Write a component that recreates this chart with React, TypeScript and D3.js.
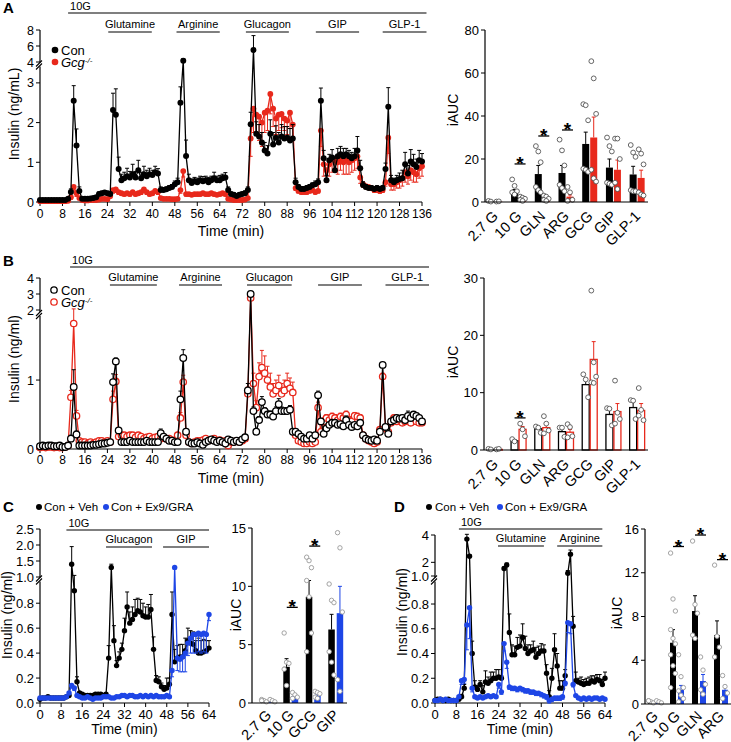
import React from 'react';
import * as d3 from 'd3';

const FONT = "'Liberation Sans', Arial, Helvetica, sans-serif";
const RED = '#e8291c';
const BLUE = '#1e46e6';

// ---------- panel A: perifusion trace (0-136 min, 1 min sampling) ----------
const conA = [
  0.05, 0.05, 0.05, 0.05, 0.05, 0.05, 0.05, 0.05, 0.05, 0.05,
  0.08, 0.25, 2.55, 1.42, 0.28, 0.08, 0.08, 0.08, 0.09, 0.1,
  0.12, 0.2, 0.22, 0.24, 0.22, 0.2, 2.32, 2.2, 0.83, 0.55,
  0.6, 0.65, 0.62, 0.7, 0.62, 0.8, 0.6, 0.7, 0.65, 0.7,
  0.68, 0.75, 0.72, 0.3, 0.3, 0.32, 0.35, 0.38, 0.45, 0.5,
  2.5, 4.15, 1.16, 0.55, 0.48, 0.52, 0.5, 0.55, 0.52, 0.55,
  0.5, 0.55, 0.6, 0.55, 0.55, 0.6, 0.62, 0.3, 0.2, 0.18,
  0.15, 0.18, 0.2, 0.22, 0.3, 1.96, 5.5, 1.72, 1.65, 1.5,
  1.3, 1.22, 1.72, 1.45, 1.62, 1.5, 1.65, 1.6, 1.62, 1.55,
  1.6, 0.5, 0.38, 0.33, 0.33, 0.35, 0.38, 0.42, 0.45, 0.5,
  2.55, 1.1, 0.55, 1.05, 1.12, 0.8, 1.15, 1.2, 1.15, 1.2,
  1.15, 1.1, 1.15, 1.3, 0.85, 0.43, 0.38, 0.35, 0.35, 0.33,
  0.35, 0.33, 0.35, 0.83, 2.4, 0.55, 0.5, 0.55, 0.58, 0.6,
  0.95, 0.72, 1.02, 0.95, 0.88, 1.05, 1.02,
];
const conAErr = [
  0.02, 0.02, 0.02, 0.02, 0.02, 0.02, 0.02, 0.02, 0.02, 0.02,
  0.03, 0.08, 0.38, 0.42, 0.1, 0.03, 0.03, 0.03, 0.03, 0.03,
  0.04, 0.05, 0.05, 0.05, 0.05, 0.05, 0.42, 0.65, 0.3, 0.15,
  0.15, 0.2, 0.15, 0.25, 0.15, 0.25, 0.15, 0.2, 0.15, 0.15,
  0.12, 0.15, 0.12, 0.08, 0.06, 0.06, 0.06, 0.06, 0.08, 0.1,
  0.4, 0.25, 0.4, 0.15, 0.1, 0.1, 0.1, 0.1, 0.12, 0.1,
  0.12, 0.1, 0.15, 0.1, 0.12, 0.1, 0.12, 0.08, 0.05, 0.05,
  0.05, 0.05, 0.05, 0.06, 0.08, 0.3, 1.8, 0.3, 0.3, 0.25,
  0.2, 0.2, 0.35, 0.3, 0.3, 0.25, 0.3, 0.3, 0.28, 0.3,
  0.35, 0.1, 0.06, 0.06, 0.06, 0.06, 0.06, 0.06, 0.08, 0.08,
  0.32, 0.2, 0.12, 0.15, 0.2, 0.3, 0.2, 0.2, 0.2, 0.15,
  0.15, 0.15, 0.2, 0.35, 0.2, 0.08, 0.06, 0.06, 0.06, 0.06,
  0.06, 0.06, 0.06, 0.15, 0.48, 0.12, 0.1, 0.12, 0.15, 0.2,
  0.3, 0.2, 0.3, 0.25, 0.2, 0.25, 0.2,
];
const gcgA = [
  0.02, 0.02, 0.02, 0.02, 0.02, 0.02, 0.02, 0.02, 0.02, 0.02,
  0.03, 0.12, 0.38, 0.22, 0.1, 0.05, 0.04, 0.04, 0.05, 0.05,
  0.05, 0.06, 0.08, 0.08, 0.07, 0.15, 0.3, 0.32, 0.25, 0.22,
  0.2, 0.22, 0.2, 0.25, 0.2, 0.22, 0.25, 0.32, 0.25, 0.2,
  0.22, 0.28, 0.25, 0.1, 0.08, 0.08, 0.08, 0.07, 0.07, 0.08,
  0.3, 0.78, 0.2, 0.2, 0.18, 0.2, 0.2, 0.2, 0.22, 0.2,
  0.2, 0.22, 0.2, 0.18, 0.2, 0.22, 0.2, 0.08, 0.06, 0.05,
  0.05, 0.05, 0.05, 0.06, 0.1, 1.6, 2.35, 2.2, 2.15, 2.0,
  2.25, 2.3, 2.72, 2.35, 2.1, 2.2, 2.22, 2.1, 2.05, 2.25,
  1.95, 0.35, 0.28, 0.25, 0.25, 0.25, 0.28, 0.3, 0.25, 0.28,
  1.8, 0.95, 0.8, 0.95, 1.1, 1.05, 1.0, 1.1, 1.0, 1.05,
  1.0, 1.05, 1.1, 1.15, 0.62, 0.45, 0.4, 0.38, 0.35, 0.3,
  0.3, 0.28, 0.3, 0.5, 1.62, 0.45, 0.45, 0.5, 0.55, 0.6,
  0.75, 0.65, 0.8, 0.75, 0.7, 0.85, 0.9,
];
const gcgAErr = [
  0.01, 0.01, 0.01, 0.01, 0.01, 0.01, 0.01, 0.01, 0.01, 0.01,
  0.02, 0.05, 0.1, 0.08, 0.04, 0.02, 0.02, 0.02, 0.02, 0.02,
  0.02, 0.02, 0.03, 0.03, 0.03, 0.05, 0.08, 0.08, 0.06, 0.05,
  0.05, 0.05, 0.05, 0.06, 0.05, 0.05, 0.06, 0.08, 0.06, 0.05,
  0.05, 0.06, 0.06, 0.03, 0.02, 0.02, 0.02, 0.02, 0.02, 0.02,
  0.08, 0.15, 0.05, 0.05, 0.04, 0.05, 0.05, 0.05, 0.05, 0.05,
  0.05, 0.05, 0.05, 0.04, 0.05, 0.05, 0.05, 0.02, 0.02, 0.02,
  0.02, 0.02, 0.02, 0.02, 0.04, 0.45, 0.6, 0.5, 0.6, 0.6,
  0.5, 0.5, 0.5, 0.45, 0.4, 0.4, 0.35, 0.3, 0.35, 0.4,
  0.3, 0.06, 0.05, 0.05, 0.05, 0.05, 0.05, 0.05, 0.05, 0.05,
  0.4, 0.3, 0.3, 0.3, 0.35, 0.3, 0.3, 0.3, 0.3, 0.35,
  0.3, 0.3, 0.3, 0.3, 0.15, 0.08, 0.07, 0.07, 0.06, 0.06,
  0.06, 0.06, 0.06, 0.1, 0.4, 0.15, 0.15, 0.15, 0.2, 0.2,
  0.25, 0.2, 0.25, 0.25, 0.2, 0.25, 0.25,
];

// ---------- panel B: trace ----------
const conB = [
  0.04, 0.05, 0.04, 0.05, 0.05, 0.04, 0.04, 0.05, 0.03, 0.03,
  0.05, 0.15, 0.9, 0.21, 0.05, 0.05, 0.05, 0.05, 0.05, 0.06,
  0.06, 0.07, 0.08, 0.08, 0.09, 0.1, 0.97, 1.27, 0.27, 0.1,
  0.1, 0.1, 0.12, 0.1, 0.1, 0.1, 0.1, 0.1, 0.12, 0.1,
  0.1, 0.1, 0.1, 0.23, 0.18, 0.15, 0.12, 0.12, 0.1, 0.1,
  0.72, 1.32, 0.25, 0.1, 0.08, 0.08, 0.1, 0.08, 0.06, 0.1,
  0.12, 0.14, 0.12, 0.1, 0.12, 0.1, 0.08, 0.14, 0.12, 0.1,
  0.12, 0.1, 0.14, 0.17, 0.85, 3.0, 0.55, 0.25, 0.42, 0.68,
  0.55, 0.5, 0.5, 0.47, 0.55, 0.65, 0.55, 0.55, 0.55, 0.57,
  0.25, 0.25, 0.22, 0.18, 0.15, 0.15, 0.2, 0.15, 0.2, 0.78,
  0.4, 0.22, 0.3, 0.35, 0.38, 0.38, 0.35, 0.36, 0.33, 0.42,
  0.35, 0.32, 0.35, 0.33, 0.38, 0.2, 0.15, 0.13, 0.12, 0.14,
  0.12, 0.25, 1.22, 0.32, 0.22, 0.4, 0.42, 0.45, 0.44, 0.45,
  0.42, 0.48, 0.45, 0.5, 0.48, 0.45, 0.4,
];
const conBErr = [
  0.01, 0.01, 0.01, 0.01, 0.01, 0.01, 0.01, 0.01, 0.01, 0.01,
  0.02, 0.05, 0.25, 0.05, 0.01, 0.01, 0.01, 0.01, 0.01, 0.01,
  0.01, 0.01, 0.01, 0.01, 0.01, 0.02, 0.12, 0.05, 0.04, 0.02,
  0.02, 0.02, 0.02, 0.02, 0.02, 0.02, 0.02, 0.02, 0.02, 0.02,
  0.02, 0.02, 0.02, 0.06, 0.03, 0.02, 0.02, 0.02, 0.02, 0.02,
  0.12, 0.12, 0.04, 0.02, 0.02, 0.02, 0.02, 0.02, 0.02, 0.02,
  0.02, 0.02, 0.02, 0.02, 0.02, 0.02, 0.02, 0.02, 0.02, 0.02,
  0.02, 0.02, 0.02, 0.03, 0.1, 0.1, 0.06, 0.04, 0.05, 0.08,
  0.05, 0.05, 0.05, 0.05, 0.06, 0.08, 0.06, 0.05, 0.05, 0.06,
  0.04, 0.03, 0.03, 0.02, 0.02, 0.02, 0.02, 0.02, 0.03, 0.06,
  0.04, 0.03, 0.03, 0.03, 0.03, 0.03, 0.03, 0.03, 0.03, 0.06,
  0.03, 0.03, 0.03, 0.03, 0.03, 0.02, 0.02, 0.02, 0.02, 0.02,
  0.02, 0.02, 0.03, 0.03, 0.03, 0.03, 0.03, 0.03, 0.03, 0.04,
  0.04, 0.07, 0.05, 0.04, 0.04, 0.03, 0.03,
];
const gcgB = [
  0.02, 0.03, 0.02, 0.03, 0.03, 0.02, 0.03, 0.02, 0.02, 0.03,
  0.05, 0.75, 1.82, 0.48, 0.12, 0.1, 0.1, 0.08, 0.1, 0.08,
  0.1, 0.12, 0.12, 0.1, 0.12, 0.1, 0.72, 0.98, 0.18, 0.2,
  0.2, 0.18, 0.2, 0.2, 0.17, 0.2, 0.18, 0.15, 0.17, 0.18,
  0.15, 0.17, 0.18, 0.15, 0.17, 0.15, 0.15, 0.13, 0.12, 0.2,
  0.45, 0.97, 0.2, 0.1, 0.08, 0.1, 0.12, 0.12, 0.13, 0.15,
  0.12, 0.13, 0.15, 0.12, 0.13, 0.1, 0.12, 0.05, 0.1, 0.1,
  0.12, 0.1, 0.12, 0.15, 0.8, 2.75, 0.95, 0.6, 1.05, 1.18,
  1.1, 1.0, 0.9, 0.8, 0.85, 0.92, 0.8, 0.85, 0.95, 0.88,
  0.82, 0.2, 0.12, 0.1, 0.08, 0.08, 0.1, 0.08, 0.1, 0.6,
  0.25, 0.4, 0.45, 0.42, 0.47, 0.45, 0.42, 0.47, 0.45, 0.5,
  0.42, 0.4, 0.48, 0.47, 0.45, 0.2, 0.15, 0.12, 0.1, 0.08,
  0.1, 0.28, 1.05, 0.3, 0.25, 0.38, 0.45, 0.4, 0.42, 0.38,
  0.4, 0.42, 0.38, 0.45, 0.4, 0.38, 0.38,
];
const gcgBErr = [
  0.01, 0.01, 0.01, 0.01, 0.01, 0.01, 0.01, 0.01, 0.01, 0.01,
  0.02, 0.1, 0.25, 0.08, 0.02, 0.01, 0.01, 0.01, 0.01, 0.01,
  0.01, 0.01, 0.01, 0.01, 0.01, 0.01, 0.12, 0.1, 0.02, 0.02,
  0.02, 0.02, 0.02, 0.02, 0.02, 0.02, 0.02, 0.02, 0.02, 0.02,
  0.02, 0.02, 0.02, 0.02, 0.02, 0.02, 0.02, 0.02, 0.02, 0.02,
  0.08, 0.1, 0.02, 0.01, 0.01, 0.01, 0.01, 0.01, 0.01, 0.01,
  0.01, 0.01, 0.01, 0.01, 0.01, 0.01, 0.01, 0.01, 0.01, 0.01,
  0.01, 0.01, 0.01, 0.02, 0.1, 0.1, 0.15, 0.1, 0.2, 0.25,
  0.25, 0.2, 0.2, 0.15, 0.15, 0.15, 0.15, 0.15, 0.15, 0.15,
  0.15, 0.03, 0.02, 0.02, 0.02, 0.02, 0.02, 0.02, 0.02, 0.08,
  0.05, 0.05, 0.05, 0.05, 0.05, 0.05, 0.05, 0.05, 0.05, 0.05,
  0.05, 0.05, 0.05, 0.05, 0.05, 0.03, 0.02, 0.02, 0.02, 0.02,
  0.02, 0.03, 0.05, 0.03, 0.03, 0.04, 0.04, 0.04, 0.04, 0.04,
  0.04, 0.04, 0.04, 0.04, 0.04, 0.04, 0.04,
];

// ---------- panel C: trace (0-64 min) ----------
const vehC = [
  0.03, 0.04, 0.04, 0.05, 0.04, 0.04, 0.04, 0.04, 0.04, 0.04,
  0.05, 0.06, 1.4, 0.9, 0.17, 0.08, 0.07, 0.06, 0.06, 0.06,
  0.06, 0.07, 0.07, 0.07, 0.06, 0.07, 0.36, 1.3, 0.5, 0.3,
  0.36, 0.43, 0.58, 0.77, 0.64, 0.67, 0.71, 0.74, 0.73, 0.7,
  0.69, 0.69, 0.75, 0.43, 0.18, 0.17, 0.13, 0.11, 0.12, 0.15,
  0.71, 0.33, 0.36, 0.37, 0.37, 0.42, 0.5, 0.48, 0.47, 0.42,
  0.4, 0.4, 0.41, 0.42, 0.44,
];
const vehCErr = [
  0.01, 0.01, 0.01, 0.01, 0.01, 0.01, 0.01, 0.01, 0.01, 0.01,
  0.01, 0.02, 0.55, 0.15, 0.04, 0.01, 0.01, 0.01, 0.01, 0.01,
  0.01, 0.01, 0.01, 0.01, 0.01, 0.01, 0.1, 0.1, 0.12, 0.04,
  0.05, 0.05, 0.1, 0.12, 0.09, 0.1, 0.12, 0.1, 0.1, 0.1,
  0.08, 0.1, 0.12, 0.1, 0.04, 0.04, 0.03, 0.03, 0.08, 0.05,
  0.18, 0.1, 0.1, 0.1, 0.1, 0.1, 0.1, 0.1, 0.1, 0.08,
  0.12, 0.1, 0.1, 0.08, 0.06,
];
const exC = [
  0.04, 0.04, 0.04, 0.04, 0.04, 0.04, 0.04, 0.04, 0.04, 0.04,
  0.05, 0.08, 0.14, 0.12, 0.06, 0.05, 0.04, 0.04, 0.05, 0.04,
  0.03, 0.04, 0.04, 0.04, 0.05, 0.05, 0.05, 0.04, 0.04, 0.05,
  0.05, 0.06, 0.06, 0.05, 0.06, 0.06, 0.05, 0.05, 0.06, 0.05,
  0.06, 0.05, 0.06, 0.05, 0.06, 0.05, 0.05, 0.05, 0.06, 0.05,
  0.26, 1.3, 0.36, 0.35, 0.37, 0.4, 0.48, 0.52, 0.55, 0.55,
  0.56, 0.55, 0.56, 0.55, 0.71,
];
const exCErr = [
  0.01, 0.01, 0.01, 0.01, 0.01, 0.01, 0.01, 0.01, 0.01, 0.01,
  0.01, 0.01, 0.02, 0.02, 0.01, 0.01, 0.01, 0.01, 0.01, 0.01,
  0.01, 0.01, 0.01, 0.01, 0.01, 0.01, 0.01, 0.01, 0.01, 0.01,
  0.01, 0.01, 0.01, 0.01, 0.01, 0.01, 0.01, 0.01, 0.01, 0.01,
  0.01, 0.01, 0.01, 0.01, 0.01, 0.01, 0.01, 0.01, 0.01, 0.01,
  0.05, 0.05, 0.1, 0.1, 0.12, 0.15, 0.1, 0.12, 0.15, 0.15,
  0.15, 0.15, 0.15, 0.15, 0.05,
];

// ---------- panel D: trace (0-64 min) ----------
const vehD = [
  0.02, 0.03, 0.03, 0.02, 0.02, 0.03, 0.02, 0.02, 0.02, 0.03,
  0.05, 0.12, 3.7, 2.45, 0.4, 0.13, 0.11, 0.15, 0.09, 0.17,
  0.16, 0.18, 0.2, 0.2, 0.21, 0.2, 1.55, 1.8, 0.57, 0.39,
  0.39, 0.45, 0.46, 0.53, 0.44, 0.4, 0.42, 0.43, 0.37, 0.4,
  0.42, 0.42, 0.24, 0.05, 0.2, 0.43, 0.3, 0.12, 0.12, 0.22,
  1.2, 2.6, 0.62, 0.18, 0.17, 0.16, 0.15, 0.16, 0.16, 0.18,
  0.17, 0.19, 0.18, 0.15, 0.2,
];
const vehDErr = [
  0.01, 0.01, 0.01, 0.01, 0.01, 0.01, 0.01, 0.01, 0.01, 0.01,
  0.02, 0.03, 0.35, 0.1, 0.1, 0.05, 0.03, 0.03, 0.05, 0.09,
  0.05, 0.07, 0.05, 0.07, 0.06, 0.02, 0.1, 0.15, 0.15, 0.08,
  0.07, 0.08, 0.09, 0.11, 0.1, 0.07, 0.05, 0.07, 0.08, 0.06,
  0.06, 0.05, 0.07, 0.05, 0.08, 0.13, 0.1, 0.06, 0.06, 0.05,
  0.2, 0.3, 0.08, 0.07, 0.03, 0.05, 0.04, 0.04, 0.05, 0.04,
  0.05, 0.04, 0.05, 0.04, 0.05,
];
const exD = [
  0.02, 0.02, 0.03, 0.02, 0.03, 0.02, 0.02, 0.02, 0.02, 0.05,
  0.18, 0.19, 0.63, 0.77, 0.12, 0.05, 0.04, 0.05, 0.04, 0.05,
  0.06, 0.05, 0.06, 0.05, 0.15, 0.09, 0.48, 0.33, 0.13, 0.12,
  0.12, 0.11, 0.12, 0.11, 0.1, 0.1, 0.09, 0.09, 0.08, 0.08,
  0.07, 0.06, 0.05, 0.02, 0.03, 0.04, 0.04, 0.04, 0.05, 0.16,
  0.65, 0.64, 0.15, 0.06, 0.04, 0.03, 0.04, 0.03, 0.04, 0.03,
  0.04, 0.04, 0.03, 0.04, 0.03,
];
const exDErr = [
  0.01, 0.01, 0.01, 0.01, 0.01, 0.01, 0.01, 0.01, 0.01, 0.01,
  0.03, 0.03, 0.2, 0.25, 0.03, 0.01, 0.01, 0.01, 0.01, 0.01,
  0.01, 0.01, 0.01, 0.01, 0.03, 0.02, 0.06, 0.05, 0.02, 0.02,
  0.02, 0.02, 0.02, 0.02, 0.02, 0.02, 0.02, 0.02, 0.02, 0.02,
  0.02, 0.02, 0.02, 0.02, 0.02, 0.02, 0.02, 0.02, 0.02, 0.02,
  0.08, 0.08, 0.02, 0.01, 0.01, 0.01, 0.01, 0.01, 0.01, 0.01,
  0.01, 0.01, 0.01, 0.01, 0.01,
];

// ---------- axis ticks and treatment windows ----------
const ticks136 = [0, 8, 16, 24, 32, 40, 48, 56, 64, 72, 80, 88, 96, 104, 112, 120, 128, 136];
const ticks64 = [0, 8, 16, 24, 32, 40, 48, 56, 64];

const windowsA = [
  { label: 'Glutamine', t0: 24.3, t1: 39.8 },
  { label: 'Arginine', t0: 48.6, t1: 64 },
  { label: 'Glucagon', t0: 73.3, t1: 88.6 },
  { label: 'GIP', t0: 98.2, t1: 113.6 },
  { label: 'GLP-1', t0: 122, t1: 137.6 },
];
const windowsB = [
  { label: 'Glutamine', t0: 24.9, t1: 41.6 },
  { label: 'Arginine', t0: 49.5, t1: 64.8 },
  { label: 'Glucagon', t0: 73.7, t1: 89.6 },
  { label: 'GIP', t0: 99, t1: 114.6 },
  { label: 'GLP-1', t0: 123, t1: 138.5 },
];
const windowsC = [
  { label: 'Glucagon', t0: 25, t1: 42.4 },
  { label: 'GIP', t0: 46.6, t1: 64 },
];
const windowsD = [
  { label: 'Glutamine', t0: 23.7, t1: 41 },
  { label: 'Arginine', t0: 46, t1: 63 },
];

// ---------- iAUC bars ----------
const catsAB = ['2.7 G', '10 G', 'GLN', 'ARG', 'GCG', 'GIP', 'GLP-1'];
const iaucConA = [0.3, 4.5, 13, 13.5, 27, 16, 12.8];
const iaucConASem = [0.1, 1.3, 4, 3.5, 5.5, 4, 3.8];
const iaucGcgA = [0.2, 1.5, 1.5, 2.5, 30, 15, 11.2];
const iaucGcgASem = [0.1, 0.5, 0.5, 0.8, 9.5, 4.5, 3.6];
const dotsConA = [
  [0.5, 0.2], [10.5, 7.5, 5, 4.5, 3.5], [26, 23.5, 18.5, 7, 5.5, 4.5], [29, 24, 17, 8, 6.5, 5],
  [45.5, 45, 38, 15.5, 15, 14], [30, 26, 23.5, 9, 8.5, 8], [26.5, 23, 21, 5.5, 5, 5],
];
const dotsGcgA = [
  [0.2, 0.3], [2.5, 2, 1.5, 1, 0.5], [3, 2.5, 1.5, 1, 0.5], [7, 4.5, 1, 0.5],
  [65.5, 57.5, 41, 15, 11, 9.5], [29.5, 29.5, 20, 9, 6], [24.5, 22.5, 17.5, 4.5, 3.5, 3],
];

const iaucConB = [0.1, 1.6, 3.7, 3.2, 11.4, 6.2, 7.4];
const iaucConBSem = [0.05, 0.2, 0.3, 0.5, 1.0, 1.0, 1.1];
const iaucGcgB = [0.1, 3.6, 3.9, 3.1, 15.8, 6.7, 6.9];
const iaucGcgBSem = [0.05, 0.5, 0.6, 0.5, 3.1, 1.4, 1.2];
const dotsConB = [
  [0.2, 0.1], [1.9, 1.5], [4.1, 3.9, 3.0], [3.9, 3.9, 2.3], [13.2, 12.3, 9.2], [7.3, 7.2, 4.3], [8.7, 8.6, 5.4],
];
const dotsGcgB = [
  [0.1, 0.2], [4.6, 3.6, 2.4], [5.9, 4.6, 3.4, 2.9], [4.5, 4.0, 2.4, 2.2],
  [27.8, 15.3, 12.8, 11.8, 11.7], [12.1, 6.5, 5.4, 4.6], [10.8, 7.0, 5.2, 6.0],
];

const catsC = ['2.7 G', '10 G', 'GCG', 'GIP'];
const iaucVehC = [0.15, 3.1, 9.1, 6.3];
const iaucVehCSem = [0.05, 0.7, 1.4, 1.3];
const iaucExC = [0.15, 0.6, 0.6, 7.7];
const iaucExCSem = [0.05, 0.15, 0.15, 2.3];
const dotsVehC = [[0.3, 0.2, 0.1, 0.2], [6.0, 3.5, 3.4, 2.9, 1.5], [12.5, 12.2, 11.6, 10.5, 9.1, 6.0, 4.4], [10.2, 8.8, 8.6, 4.4, 3.5, 2.4]];
const dotsExC = [[0.3, 0.2, 0.1], [0.9, 0.7, 0.5, 0.4], [1.0, 0.9, 0.8, 0.5, 0.4], [14.6, 13.3, 7.8, 2.0, 1.0]];

const catsD = ['2.7 G', '10 G', 'GLN', 'ARG'];
const iaucVehD = [0.15, 5.6, 8.5, 6.3];
const iaucVehDSem = [0.05, 1.2, 1.4, 1.3];
const iaucExD = [0.15, 1.3, 2.1, 1.3];
const iaucExDSem = [0.05, 0.4, 0.6, 0.4];
const dotsVehD = [[0.3, 0.2, 0.1, 0.3], [13.8, 9.6, 8.5, 6.8, 6.0, 5.5, 4.5, 3.5, 2.8, 1.5], [14.9, 9.1, 8.3, 6.3, 6.0], [12.7, 6.2, 5.2, 4.3]];
const dotsExD = [[0.3, 0.2, 0.1], [4.5, 2.5, 1.5, 1.2, 0.8, 0.5, 0.2], [4.3, 3.1, 1.8, 1.3, 0.9], [2.6, 1.6, 1.0, 0.5]];

// ---------- components ----------
interface Series { values: number[]; err: number[]; color: string; open?: boolean; up: boolean; r: number; }
interface Window { label: string; t0: number; t1: number; }

interface TraceProps {
  x0: number; x1: number; tMax: number;
  yDomain: number[]; yRange: number[];
  lowTicks: number[]; lowLabels: string[];
  upTicks: number[]; upLabels: string[]; lowTop: number;
  xTicks: number[]; xFont: number; yFont: number; xTickY: number;
  series: Series[];
  windows: Window[]; topT0: number; topT1: number;
  topLineY: number; subLineY: number;
  yLabel: string; yLabelX: number; yLabelY: number; xLabelY: number;
}

function Trace(p: TraceProps) {
  const x = d3.scaleLinear().domain([0, p.tMax]).range([p.x0, p.x1]);
  const y = d3.scaleLinear().domain(p.yDomain).range(p.yRange);
  const baseY = y(0);
  const line = d3.line<number>().x((_, i) => x(i)).y(d => y(d));
  const yLow = y(p.lowTop);
  const yUp = y(p.upTicks[0]);
  const yb = (yLow + yUp) / 2;
  const ax = p.x0;
  return (
    <g>
      {/* y axis with break */}
      <line x1={ax} x2={ax} y1={baseY} y2={yb + 2} stroke="#000" strokeWidth={1.2} />
      <line x1={ax} x2={ax} y1={yb - 2} y2={y(p.upTicks[p.upTicks.length - 1])} stroke="#000" strokeWidth={1.2} />
      <line x1={ax - 4} y1={yb + 2} x2={ax + 2} y2={yb - 4} stroke="#000" strokeWidth={1.1} />
      <line x1={ax - 4} y1={yb + 5} x2={ax + 2} y2={yb - 1} stroke="#000" strokeWidth={1.1} />
      {p.lowTicks.map((t, i) => (
        <g key={'lt' + i}>
          <line x1={ax - 4} x2={ax} y1={y(t)} y2={y(t)} stroke="#000" />
          <text x={ax - 6} y={y(t) + p.yFont * 0.36} textAnchor="end" fontSize={p.yFont}>{p.lowLabels[i]}</text>
        </g>
      ))}
      {p.upTicks.map((t, i) => (
        <g key={'ut' + i}>
          <line x1={ax - 4} x2={ax} y1={y(t)} y2={y(t)} stroke="#000" />
          <text x={ax - 6} y={y(t) + p.yFont * 0.36} textAnchor="end" fontSize={p.yFont}>{p.upLabels[i]}</text>
        </g>
      ))}
      {/* x axis */}
      <line x1={ax} x2={x(p.tMax)} y1={baseY} y2={baseY} stroke="#000" strokeWidth={1.2} />
      {p.xTicks.map(t => (
        <g key={'xt' + t}>
          <line x1={x(t)} x2={x(t)} y1={baseY} y2={baseY + 4} stroke="#000" />
          <text x={x(t)} y={p.xTickY} textAnchor="middle" fontSize={p.xFont}>{t}</text>
        </g>
      ))}
      <text x={(p.x0 + p.x1) / 2} y={p.xLabelY} textAnchor="middle" fontSize={14}>Time (min)</text>
      <text transform={`translate(${p.yLabelX},${p.yLabelY}) rotate(-90)`} textAnchor="middle" fontSize={14}>{p.yLabel}</text>
      {/* treatment windows */}
      <line x1={x(p.topT0)} x2={x(p.topT1)} y1={p.topLineY} y2={p.topLineY} stroke="#000" strokeWidth={1.1} />
      <text x={x(p.topT0) + 2} y={p.topLineY - 3.5} fontSize={11}>10G</text>
      {p.windows.map(w => (
        <g key={w.label}>
          <line x1={x(w.t0)} x2={x(w.t1)} y1={p.subLineY} y2={p.subLineY} stroke="#000" strokeWidth={1.1} />
          <text x={(x(w.t0) + x(w.t1)) / 2} y={p.subLineY - 4.5} textAnchor="middle" fontSize={11}>{w.label}</text>
        </g>
      ))}
      {/* series */}
      {p.series.map((s, si) => (
        <g key={'s' + si}>
          {s.values.map((v, i) => {
            const e = s.err[i];
            const yy = y(s.up ? v + e : Math.max(0, v - e));
            return (
              <g key={i} stroke={s.color} strokeWidth={1}>
                <line x1={x(i)} x2={x(i)} y1={y(v)} y2={yy} />
                <line x1={x(i) - 2} x2={x(i) + 2} y1={yy} y2={yy} />
              </g>
            );
          })}
          <path d={line(s.values) || ''} fill="none" stroke={s.color} strokeWidth={1.3} />
          {s.values.map((v, i) => (
            <circle key={'c' + i} cx={x(i)} cy={y(v)} r={s.r}
              fill={s.open ? '#fff' : s.color} stroke={s.color} strokeWidth={s.open ? 1.3 : 0} />
          ))}
        </g>
      ))}
    </g>
  );
}

interface BarGroup { means: number[]; sems: number[]; dots: number[][]; color: string; open?: boolean; }
interface Sig { cat: string; v: number; }
interface BarsProps {
  axisX: number; right: number; baseY: number; topY: number; yMax: number; yTicks: number[];
  cats: string[]; bandL: number; bandR: number; groups: BarGroup[]; barW: number; off: number;
  sig: Sig[]; dotR: number; dotStroke: string; yLabelX: number; yLabelY: number; labelDy: number;
}

function Bars(p: BarsProps) {
  const y = d3.scaleLinear().domain([0, p.yMax]).range([p.baseY, p.topY]);
  const band = d3.scaleBand<string>().domain(p.cats).range([p.bandL, p.bandR]);
  const cx = (c: string) => (band(c) || 0) + band.bandwidth() / 2;
  return (
    <g>
      {p.groups.map((g, gi) => {
        const o = (gi === 0 ? -1 : 1) * p.off;
        return (
          <g key={'g' + gi}>
            {p.cats.map((c, ci) => {
              const bx = cx(c) + o;
              const top = y(g.means[ci]);
              const et = y(g.means[ci] + g.sems[ci]);
              return (
                <g key={c}>
                  <rect x={bx - p.barW / 2} y={top} width={p.barW} height={p.baseY - top}
                    fill={g.open ? '#fff' : g.color} stroke={g.color} strokeWidth={g.open ? 1.3 : 0} />
                  <line x1={bx} x2={bx} y1={top} y2={et} stroke={g.color} strokeWidth={1} />
                  <line x1={bx - 2} x2={bx + 2} y1={et} y2={et} stroke={g.color} strokeWidth={1} />
                </g>
              );
            })}
          </g>
        );
      })}
      {p.groups.map((g, gi) => {
        const o = (gi === 0 ? -1 : 1) * p.off;
        return (
          <g key={'d' + gi}>
            {p.cats.map((c, ci) => g.dots[ci].map((v, k) => (
              <circle key={c + k} cx={cx(c) + o + ((k % 3) - 1) * 2.4} cy={y(v)} r={p.dotR}
                fill="#fff" stroke={p.dotStroke} strokeWidth={0.9} />
            )))}
          </g>
        );
      })}
      <line x1={p.axisX} x2={p.axisX} y1={p.baseY} y2={p.topY} stroke="#000" strokeWidth={1.2} />
      <line x1={p.axisX} x2={p.right} y1={p.baseY} y2={p.baseY} stroke="#000" strokeWidth={1.2} />
      {p.yTicks.map(t => (
        <g key={'yt' + t}>
          <line x1={p.axisX - 4} x2={p.axisX} y1={y(t)} y2={y(t)} stroke="#000" />
          <text x={p.axisX - 6} y={y(t) + 4.7} textAnchor="end" fontSize={13}>{t}</text>
        </g>
      ))}
      {p.cats.map(c => (
        <text key={'cl' + c} transform={`translate(${cx(c) + 4},${p.baseY + p.labelDy}) rotate(-45)`}
          textAnchor="end" fontSize={14.5}>{c}</text>
      ))}
      {p.sig.map(s => {
        const x1 = cx(s.cat) - 4, x2 = cx(s.cat) + 7, yy = y(s.v);
        return (
          <g key={'sg' + s.cat}>
            <line x1={x1} x2={x2} y1={yy} y2={yy} stroke="#000" strokeWidth={1.3} />
            <text x={(x1 + x2) / 2} y={yy + 6} textAnchor="middle" fontSize={19} fontWeight="bold">*</text>
          </g>
        );
      })}
      <text transform={`translate(${p.yLabelX},${p.yLabelY}) rotate(-90)`} textAnchor="middle" fontSize={14}>iAUC</text>
    </g>
  );
}

function GcgLabel({ x, y }: { x: number; y: number }) {
  return (
    <text x={x} y={y} fontSize={13} fontStyle="italic">Gcg<tspan dy={-4} fontSize={8}>-/-</tspan></text>
  );
}

export default function App() {
  return (
    <div style={{ position: 'absolute', left: 0, top: 0 }}>
      <svg width={731} height={742} style={{ display: 'block', fontFamily: FONT }}>
        <rect width={731} height={742} fill="#fff" />
        {/* ---- A ---- */}
        <text x={3} y={13} fontSize={15} fontWeight="bold">A</text>
        <Trace x0={40} x1={422} tMax={136}
          yDomain={[0, 3.4, 4, 8]} yRange={[202, 67, 62, 30]}
          lowTicks={[0, 1, 2, 3]} lowLabels={['0', '1', '2', '3']}
          upTicks={[4, 6, 8]} upLabels={['4', '6', '8']} lowTop={3.4}
          xTicks={ticks136} xFont={12} yFont={12.5} xTickY={218}
          series={[
            { values: gcgA, err: gcgAErr, color: RED, up: false, r: 2.9 },
            { values: conA, err: conAErr, color: '#000', up: true, r: 3 },
          ]}
          windows={windowsA} topT0={10} topT1={137.6} topLineY={13} subLineY={32}
          yLabel="Insulin (ng/mL)" yLabelX={19} yLabelY={114} xLabelY={236} />
        <circle cx={55} cy={50} r={3.3} fill="#000" />
        <text x={61} y={54.5} fontSize={13}>Con</text>
        <circle cx={55} cy={62} r={3.3} fill={RED} />
        <GcgLabel x={61} y={67} />
        <Bars axisX={485} right={648} baseY={202} topY={30} yMax={80} yTicks={[0, 20, 40, 60, 80]}
          cats={catsAB} bandL={483} bandR={649} barW={7} off={4} labelDy={15}
          groups={[
            { means: iaucConA, sems: iaucConASem, dots: dotsConA, color: '#000' },
            { means: iaucGcgA, sems: iaucGcgASem, dots: dotsGcgA, color: RED },
          ]}
          sig={[{ cat: '10 G', v: 17.7 }, { cat: 'GLN', v: 30.7 }, { cat: 'ARG', v: 33.5 }]}
          dotR={2.4} dotStroke="#555" yLabelX={458} yLabelY={110} />

        {/* ---- B ---- */}
        <text x={3} y={266} fontSize={15} fontWeight="bold">B</text>
        <Trace x0={40} x1={422} tMax={136}
          yDomain={[0, 1.9, 2, 4]} yRange={[449, 318, 310, 278]}
          lowTicks={[0, 1]} lowLabels={['0', '1']}
          upTicks={[2, 3, 4]} upLabels={['2', '3', '4']} lowTop={1.9}
          xTicks={ticks136} xFont={12} yFont={12.5} xTickY={464}
          series={[
            { values: gcgB, err: gcgBErr, color: RED, open: true, up: true, r: 3.2 },
            { values: conB, err: conBErr, color: '#000', open: true, up: true, r: 3.3 },
          ]}
          windows={windowsB} topT0={10.7} topT1={138.5} topLineY={267} subLineY={285}
          yLabel="Insulin (ng/ml)" yLabelX={19} yLabelY={359} xLabelY={483} />
        <circle cx={54} cy={290} r={3.2} fill="#fff" stroke="#000" strokeWidth={1.3} />
        <text x={61} y={294.5} fontSize={13}>Con</text>
        <circle cx={54} cy={302} r={3.2} fill="#fff" stroke={RED} strokeWidth={1.3} />
        <GcgLabel x={61} y={307} />
        <Bars axisX={484} right={648} baseY={450} topY={278} yMax={30} yTicks={[0, 10, 20, 30]}
          cats={catsAB} bandL={483} bandR={649} barW={7} off={4} labelDy={15}
          groups={[
            { means: iaucConB, sems: iaucConBSem, dots: dotsConB, color: '#000', open: true },
            { means: iaucGcgB, sems: iaucGcgBSem, dots: dotsGcgB, color: RED, open: true },
          ]}
          sig={[{ cat: '10 G', v: 5.6 }]}
          dotR={2.4} dotStroke="#555" yLabelX={458} yLabelY={362} />

        {/* ---- C ---- */}
        <text x={3} y={512} fontSize={15} fontWeight="bold">C</text>
        <circle cx={39} cy={507} r={3} fill="#000" />
        <text x={44} y={511} fontSize={11.5}>Con + Veh</text>
        <circle cx={106} cy={507} r={3} fill={BLUE} />
        <text x={111} y={511} fontSize={11.5}>Con + Ex9/GRA</text>
        <Trace x0={40} x1={209} tMax={64}
          yDomain={[0, 0.97, 1, 2.5]} yRange={[703, 582, 577, 529]}
          lowTicks={[0, 0.2, 0.4, 0.6, 0.8]} lowLabels={['0.0', '0.2', '0.4', '0.6', '0.8']}
          upTicks={[1, 1.5, 2, 2.5]} upLabels={['1.0', '1.5', '2.0', '2.5']} lowTop={0.97}
          xTicks={ticks64} xFont={13} yFont={13} xTickY={719}
          series={[
            { values: vehC, err: vehCErr, color: '#000', up: true, r: 2.7 },
            { values: exC, err: exCErr, color: BLUE, up: false, r: 2.7 },
          ]}
          windows={windowsC} topT0={10} topT1={64} topLineY={530} subLineY={547}
          yLabel="Insulin (ng/ml)" yLabelX={12} yLabelY={615} xLabelY={734} />
        <Bars axisX={252} right={347} baseY={703} topY={528} yMax={15} yTicks={[0, 5, 10, 15]}
          cats={catsC} bandL={257} bandR={347} barW={6.5} off={4.2} labelDy={13}
          groups={[
            { means: iaucVehC, sems: iaucVehCSem, dots: dotsVehC, color: '#000' },
            { means: iaucExC, sems: iaucExCSem, dots: dotsExC, color: BLUE },
          ]}
          sig={[{ cat: '10 G', v: 8.2 }, { cat: 'GCG', v: 13.45 }]}
          dotR={2.2} dotStroke="#999" yLabelX={241} yLabelY={615} />

        {/* ---- D ---- */}
        <text x={394} y={512} fontSize={15} fontWeight="bold">D</text>
        <circle cx={429} cy={507} r={3} fill="#000" />
        <text x={435} y={511} fontSize={11.5}>Con + Veh</text>
        <circle cx={500} cy={507} r={3} fill={BLUE} />
        <text x={505} y={511} fontSize={11.5}>Con + Ex9/GRA</text>
        <Trace x0={435} x1={605} tMax={64}
          yDomain={[0, 0.97, 1, 4]} yRange={[703, 583, 576, 535]}
          lowTicks={[0, 0.2, 0.4, 0.6, 0.8]} lowLabels={['0.0', '0.2', '0.4', '0.6', '0.8']}
          upTicks={[1, 2, 4]} upLabels={['1.0', '2', '4']} lowTop={0.97}
          xTicks={ticks64} xFont={13} yFont={13} xTickY={719}
          series={[
            { values: vehD, err: vehDErr, color: '#000', up: true, r: 2.7 },
            { values: exD, err: exDErr, color: BLUE, up: false, r: 2.7 },
          ]}
          windows={windowsD} topT0={9} topT1={63} topLineY={529} subLineY={546}
          yLabel="Insulin (ng/ml)" yLabelX={407} yLabelY={612} xLabelY={734} />
        <Bars axisX={645} right={731} baseY={704} topY={529} yMax={16} yTicks={[0, 4, 8, 12, 16]}
          cats={catsD} bandL={644} bandR={732} barW={6} off={4} labelDy={13}
          groups={[
            { means: iaucVehD, sems: iaucVehDSem, dots: dotsVehD, color: '#000' },
            { means: iaucExD, sems: iaucExDSem, dots: dotsExD, color: BLUE },
          ]}
          sig={[{ cat: '10 G', v: 14.4 }, { cat: 'GLN', v: 15.45 }, { cat: 'ARG', v: 13.2 }]}
          dotR={2.2} dotStroke="#999" yLabelX={622} yLabelY={613} />
      </svg>
    </div>
  );
}
